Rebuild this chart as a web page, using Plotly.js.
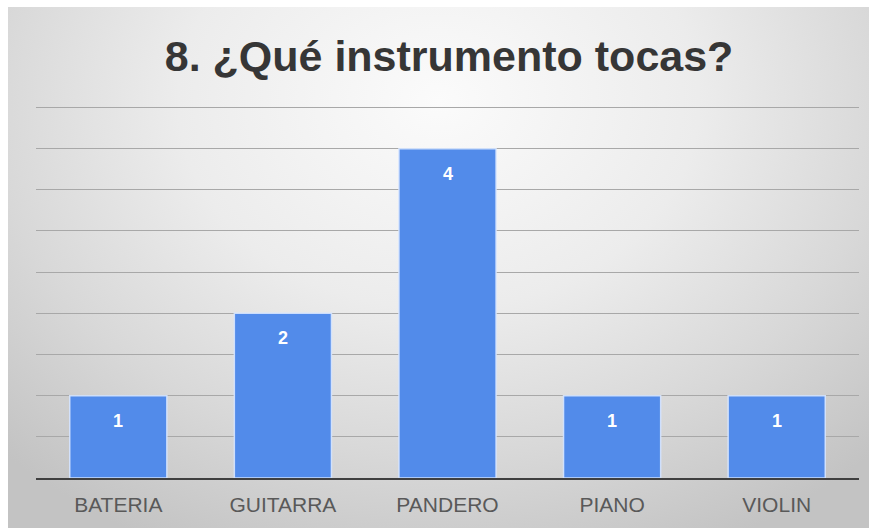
<!DOCTYPE html>
<html>
<head>
<meta charset="utf-8">
<script src="https://cdn.plot.ly/plotly-3.0.1.min.js"></script>
<style>
  html, body { margin: 0; padding: 0; background: #ffffff; }
  #wrap { position: relative; width: 872px; height: 531px; overflow: hidden; }
  #bg { position: absolute; left: 8px; top: 7px; width: 861px; height: 521px;
        background: radial-gradient(ellipse 72% 95% at 50% 18%, #fbfbfb 0%, #ececec 42%, #d8d8d8 72%, #c3c3c3 100%); }
  #chart { position: absolute; left: 0; top: 0; width: 872px; height: 531px; }
</style>
</head>
<body>
<div id="wrap">
  <div id="bg"></div>
  <div id="chart"></div>
</div>
<script>
const categories = ["BATERIA", "GUITARRA", "PANDERO", "PIANO", "VIOLIN"];
const values = [1, 2, 4, 1, 1];
const chartTitle = "8. ¿Qué instrumento tocas?";

const FONT = '"Liberation Sans", Arial, sans-serif';

const trace = {
  type: 'bar',
  x: categories,
  y: values,
  marker: { color: '#528bea', line: { color: 'rgba(215,230,255,0.9)', width: 1.5 } },
  hoverinfo: 'skip'
};

const annotations = categories.map((c, i) => ({
  x: c, y: values[i], xref: 'x', yref: 'y',
  text: String(values[i]), showarrow: false,
  yshift: -25, yanchor: 'middle',
  font: { family: FONT, size: 18, color: '#ffffff', weight: 'bold' }
}));

const layout = {
  width: 872, height: 531,
  paper_bgcolor: 'rgba(0,0,0,0)',
  plot_bgcolor: 'rgba(0,0,0,0)',
  margin: { l: 36, r: 13, t: 105, b: 53 },
  bargap: 0.41,
  showlegend: false,
  title: {
    text: '<b>' + chartTitle + '</b>',
    x: 0.515, xanchor: 'center', y: 0.895, yanchor: 'middle',
    xref: 'container', yref: 'container',
    font: { family: FONT, size: 43, color: '#363636' }
  },
  xaxis: {
    showline: true, linecolor: '#3f3f3f', linewidth: 2,
    ticks: '', showgrid: false,
    tickfont: { family: FONT, size: 21, color: '#595959' },
    ticklabelstandoff: 7
  },
  yaxis: {
    range: [0, 4.53], dtick: 0.5, showticklabels: false,
    gridcolor: '#a8a8a8', gridwidth: 1, zeroline: false, ticks: ''
  },
  annotations: annotations
};

Plotly.newPlot('chart', [trace], layout, { displayModeBar: false, staticPlot: true });
</script>
</body>
</html>
